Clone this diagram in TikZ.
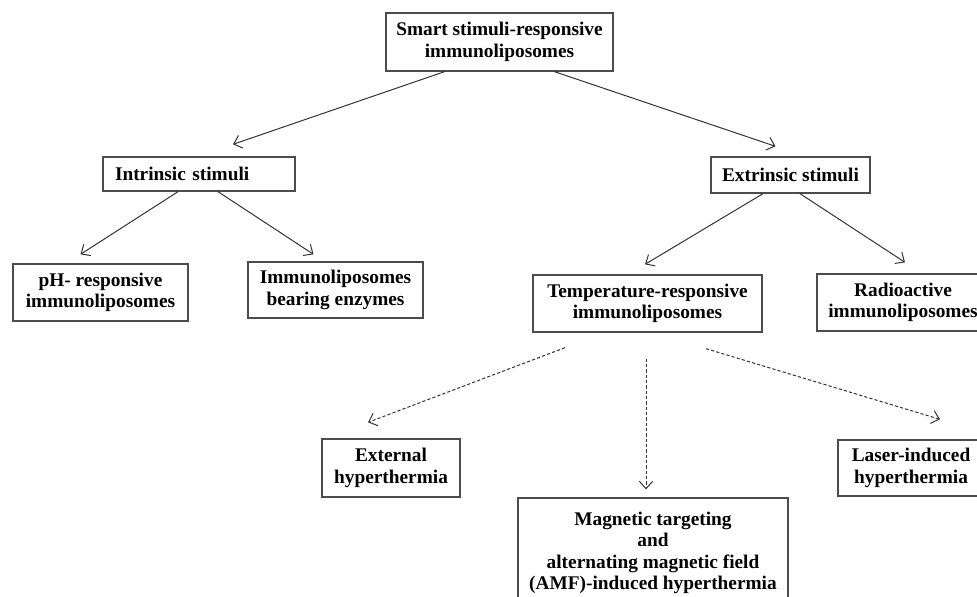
\documentclass[tikz,border=0pt]{standalone}
\usepackage{fontspec}
\setmainfont{Liberation Serif}
\usetikzlibrary{calc,positioning,arrows.meta}

\begin{document}
\begin{tikzpicture}[x=0.75pt,y=-0.75pt,
  box/.style={draw=black!70,line width=1pt,fill=white,align=center,inner sep=0pt,
    font=\bfseries\fontsize{14.5}{16}\selectfont},
  arr/.style={-{Straight Barb[length=5.5pt,width=10pt]},draw=black!80,line width=0.75pt},
  darr/.style={arr,dash pattern=on 2.4pt off 1.6pt}]
  \useasboundingbox (0,0) rectangle (977,596);
  \clip (0,0) rectangle (977,596);

  \node[box,minimum width=170.25pt,minimum height=43.5pt] (top) at (499.5,42) {Smart stimuli-responsive\\immunoliposomes};

  \node[box,text width=126pt,inner xsep=9pt,minimum height=25.5pt,align=left] (intr) at (199,174) {Intrinsic stimuli};
  \node[box,minimum width=119.25pt,minimum height=27pt] (extr) at (790.5,175) {Extrinsic stimuli};

  \node[box,minimum width=131.25pt,minimum height=42.75pt] (ph) at (100.5,292.5) {pH- responsive\\immunoliposomes};
  \node[box,minimum width=131.25pt,minimum height=42pt] (imm) at (335.5,290) {Immunoliposomes\\bearing enzymes};
  \node[box,minimum width=171.75pt,minimum height=42.75pt] (temp) at (647.5,303.5) {Temperature-responsive\\immunoliposomes};
  \node[box,minimum width=129pt,minimum height=42.75pt] (radio) at (903,302.5) {Radioactive\\immunoliposomes};

  \node[box,minimum width=103.5pt,minimum height=43.5pt] (ext) at (391,468) {External\\hyperthermia};
  \node[box,minimum width=109.5pt,minimum height=42pt] (laser) at (911,468) {Laser-induced\\hyperthermia};
  \node[box,minimum width=202.5pt,minimum height=82.5pt] (mag) at (653,553) {Magnetic targeting\\and\\alternating magnetic field\\(AMF)-induced hyperthermia};

  \draw[arr] ($(top.south)+(-55,0)$) -- ($(intr.north)+(34,-12)$);
  \draw[arr] ($(top.south)+(55,0)$) -- ($(extr.north)+(-15,-10)$);
  \draw[arr] ($(intr.south)+(-21,0)$) -- ($(ph.north)+(-20,-9)$);
  \draw[arr] ($(intr.south)+(19,0)$) -- ($(imm.north)+(-22,-7)$);
  \draw[arr] ($(extr.south)+(-27.5,0)$) -- ($(temp.north)+(-2.5,-10)$);
  \draw[arr] ($(extr.south)+(9.5,0)$) -- ($(radio.north)+(2,-11)$);

  \draw[darr] ($(temp.south)+(-82.5,15)$) -- ($(ext.north)+(-23,-16)$);
  \draw[darr] ($(temp.south)+(-1.5,26)$) -- ($(mag.north)+(-7,-8)$);
  \draw[darr] ($(temp.south)+(58.5,16)$) -- ($(laser.north)+(29,-20)$);
\end{tikzpicture}
\end{document}
